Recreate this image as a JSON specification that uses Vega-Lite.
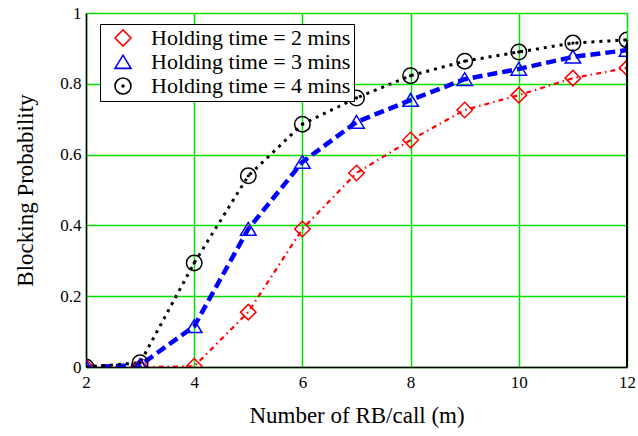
{
  "$schema": "https://vega.github.io/schema/vega-lite/v6.json",
  "width": 541,
  "height": 354,
  "autosize": "none",
  "padding": {"left": 86, "top": 13, "right": 11, "bottom": 69},
  "background": "white",
  "config": {
    "view": {"stroke": null},
    "font": "Liberation Serif",
    "axis": {
      "labelFont": "Liberation Serif",
      "titleFont": "Liberation Serif",
      "labelFontSize": 17,
      "titleFontSize": 23,
      "titleFontWeight": "normal",
      "labelColor": "#000",
      "titleColor": "#000",
      "ticks": false,
      "domainColor": "#000",
      "domainWidth": 1.5,
      "gridColor": "#00e000",
      "gridWidth": 1.5,
      "gridOpacity": 1
    },
    "legend": {
      "labelFont": "Liberation Serif",
      "labelFontSize": 22,
      "labelColor": "#000",
      "labelLimit": 0
    }
  },
  "data": {
    "values": [
      {"series": "Holding time = 2 mins", "m": 2, "p": 0},
      {"series": "Holding time = 2 mins", "m": 3, "p": 0},
      {"series": "Holding time = 2 mins", "m": 4, "p": 0.002},
      {"series": "Holding time = 2 mins", "m": 5, "p": 0.155},
      {"series": "Holding time = 2 mins", "m": 6, "p": 0.39},
      {"series": "Holding time = 2 mins", "m": 7, "p": 0.548},
      {"series": "Holding time = 2 mins", "m": 8, "p": 0.641},
      {"series": "Holding time = 2 mins", "m": 9, "p": 0.726},
      {"series": "Holding time = 2 mins", "m": 10, "p": 0.768},
      {"series": "Holding time = 2 mins", "m": 11, "p": 0.816},
      {"series": "Holding time = 2 mins", "m": 12, "p": 0.845},
      {"series": "Holding time = 3 mins", "m": 2, "p": 0},
      {"series": "Holding time = 3 mins", "m": 3, "p": 0.005},
      {"series": "Holding time = 3 mins", "m": 4, "p": 0.115},
      {"series": "Holding time = 3 mins", "m": 5, "p": 0.39},
      {"series": "Holding time = 3 mins", "m": 6, "p": 0.579},
      {"series": "Holding time = 3 mins", "m": 7, "p": 0.692},
      {"series": "Holding time = 3 mins", "m": 8, "p": 0.754},
      {"series": "Holding time = 3 mins", "m": 9, "p": 0.813},
      {"series": "Holding time = 3 mins", "m": 10, "p": 0.842},
      {"series": "Holding time = 3 mins", "m": 11, "p": 0.876},
      {"series": "Holding time = 3 mins", "m": 12, "p": 0.895},
      {"series": "Holding time = 4 mins", "m": 2, "p": 0},
      {"series": "Holding time = 4 mins", "m": 3, "p": 0.012},
      {"series": "Holding time = 4 mins", "m": 4, "p": 0.294},
      {"series": "Holding time = 4 mins", "m": 5, "p": 0.54},
      {"series": "Holding time = 4 mins", "m": 6, "p": 0.686},
      {"series": "Holding time = 4 mins", "m": 7, "p": 0.76},
      {"series": "Holding time = 4 mins", "m": 8, "p": 0.823},
      {"series": "Holding time = 4 mins", "m": 9, "p": 0.864},
      {"series": "Holding time = 4 mins", "m": 10, "p": 0.89},
      {"series": "Holding time = 4 mins", "m": 11, "p": 0.915},
      {"series": "Holding time = 4 mins", "m": 12, "p": 0.924}
    ]
  },
  "encoding": {
    "x": {
      "field": "m",
      "type": "quantitative",
      "scale": {"domain": [2, 12], "nice": false},
      "axis": {"values": [2, 4, 6, 8, 10, 12], "title": "Number of RB/call (m)", "labelPadding": 7, "titlePadding": 14, "labelFlush": false}
    },
    "y": {
      "field": "p",
      "type": "quantitative",
      "scale": {"domain": [0, 1], "nice": false},
      "axis": {"values": [0, 0.2, 0.4, 0.6, 0.8, 1], "format": "~g", "title": "Blocking Probability", "labelPadding": 5, "titlePadding": 22, "labelFlush": false}
    }
  },
  "layer": [
    {
      "mark": {"type": "line", "clip": true},
      "encoding": {
        "detail": {"field": "series", "type": "nominal"},
        "color": {
          "condition": [
            {"test": "datum.series === 'Holding time = 2 mins'", "value": "#ff0000"},
            {"test": "datum.series === 'Holding time = 3 mins'", "value": "#0000ff"}
          ],
          "value": "#000000"
        },
        "strokeDash": {
          "condition": [
            {"test": "datum.series === 'Holding time = 2 mins'", "value": [5, 4, 1.5, 4]},
            {"test": "datum.series === 'Holding time = 3 mins'", "value": [10, 5]}
          ],
          "value": [3, 5]
        },
        "strokeWidth": {
          "condition": [
            {"test": "datum.series === 'Holding time = 2 mins'", "value": 2.2},
            {"test": "datum.series === 'Holding time = 3 mins'", "value": 4.5}
          ],
          "value": 3
        }
      }
    },
    {
      "mark": {"type": "point", "filled": false, "clip": true, "strokeWidth": 1.5, "opacity": 1},
      "encoding": {
        "color": {
          "field": "series",
          "type": "nominal",
          "scale": {"domain": ["Holding time = 2 mins", "Holding time = 3 mins", "Holding time = 4 mins"], "range": ["#ff0000", "#0000ff", "#000000"]},
          "legend": {
            "orient": "none",
            "legendX": 14,
            "legendY": 11,
            "title": null,
            "padding": 3,
            "symbolOffset": 9,
            "labelOffset": 17,
            "rowPadding": 1,
            "fillColor": "white",
            "strokeColor": "#000",
            "symbolSize": 256,
            "symbolStrokeWidth": 1.6,
            "symbolFillColor": "transparent"
          }
        },
        "shape": {
          "field": "series",
          "type": "nominal",
          "scale": {"domain": ["Holding time = 2 mins", "Holding time = 3 mins", "Holding time = 4 mins"], "range": ["diamond", "M -1 0.8 L 0 -0.85 L 1 0.8 Z", "M -1 0 A 1 1 0 1 0 1 0 A 1 1 0 1 0 -1 0 Z M -0.12 0 A 0.12 0.12 0 1 0 0.12 0 A 0.12 0.12 0 1 0 -0.12 0 Z"]},
          "legend": null
        },
        "size": {"value": 240}
      }
    },
    {
      "mark": {"type": "rule", "color": "#000", "strokeWidth": 1.5},
      "encoding": {"x": {"datum": 12}}
    }
  ]
}
